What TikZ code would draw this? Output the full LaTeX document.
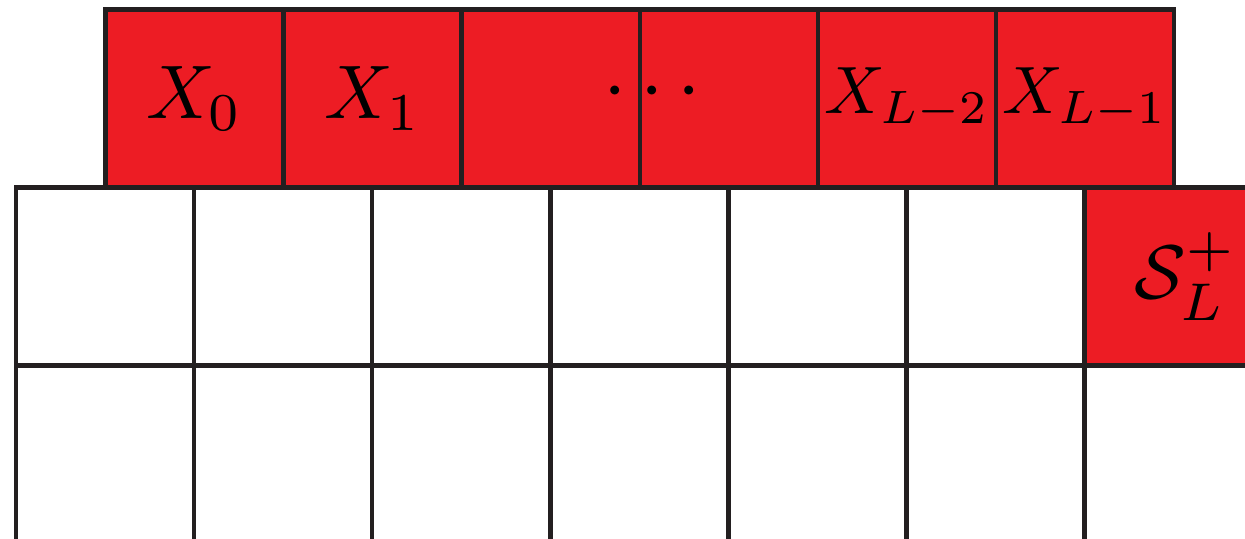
\documentclass[tikz,border=0pt]{standalone}
\usepackage{graphicx}
\definecolor{cellred}{HTML}{ED1C24}
\definecolor{gridline}{HTML}{231F20}
\newcommand{\bigtxt}[1]{\scalebox{3.8}{\normalsize #1}}
\newcommand{\midtxt}[1]{\scalebox{3.35}{\normalsize #1}}
\begin{document}
\begin{tikzpicture}[x=0.5pt,y=-0.5pt,
  cell/.style={draw=gridline,line width=2.25pt,minimum width=89.05pt,minimum height=89.05pt,
    inner sep=0pt,outer sep=0pt},
  redcell/.style={cell,fill=cellred},
  whitecell/.style={cell,fill=white}]
\path[use as bounding box] (0,0) rectangle (1245,539);
\clip (0,0) rectangle (1245,539);
% row 1 (red)
\node[redcell] (t0) at (194.55,98.5) {\bigtxt{$X_0$}};
\node[redcell] (t1) at (372.65,98.5) {\bigtxt{$X_1$}};
\node[redcell] (t2) at (550.75,98.5) {};
\node[redcell] (t3) at (728.85,98.5) {};
\node[redcell] (t4) at (906.95,98.5) {\midtxt{$X_{L-2}$}};
\node[redcell] (t5) at (1085.05,98.5) {\midtxt{$X_{L-1}$}};
\node[inner sep=0pt] (dots) at (652,93) {\scalebox{4.2}{\normalsize$\cdots$}};
% row 2
\foreach \i in {0,...,5}{
  \node[whitecell] (m\i) at ({105.05+178.1*\i},276.5) {};
}
\node[redcell] (m6) at (1173.65,276.5) {\hspace{12pt}\bigtxt{$\mathcal{S}_L^+$}};
% row 3
\foreach \i in {0,...,5}{
  \node[whitecell] (b\i) at ({105.05+178.1*\i},454.6) {};
}
\end{tikzpicture}
\end{document}
